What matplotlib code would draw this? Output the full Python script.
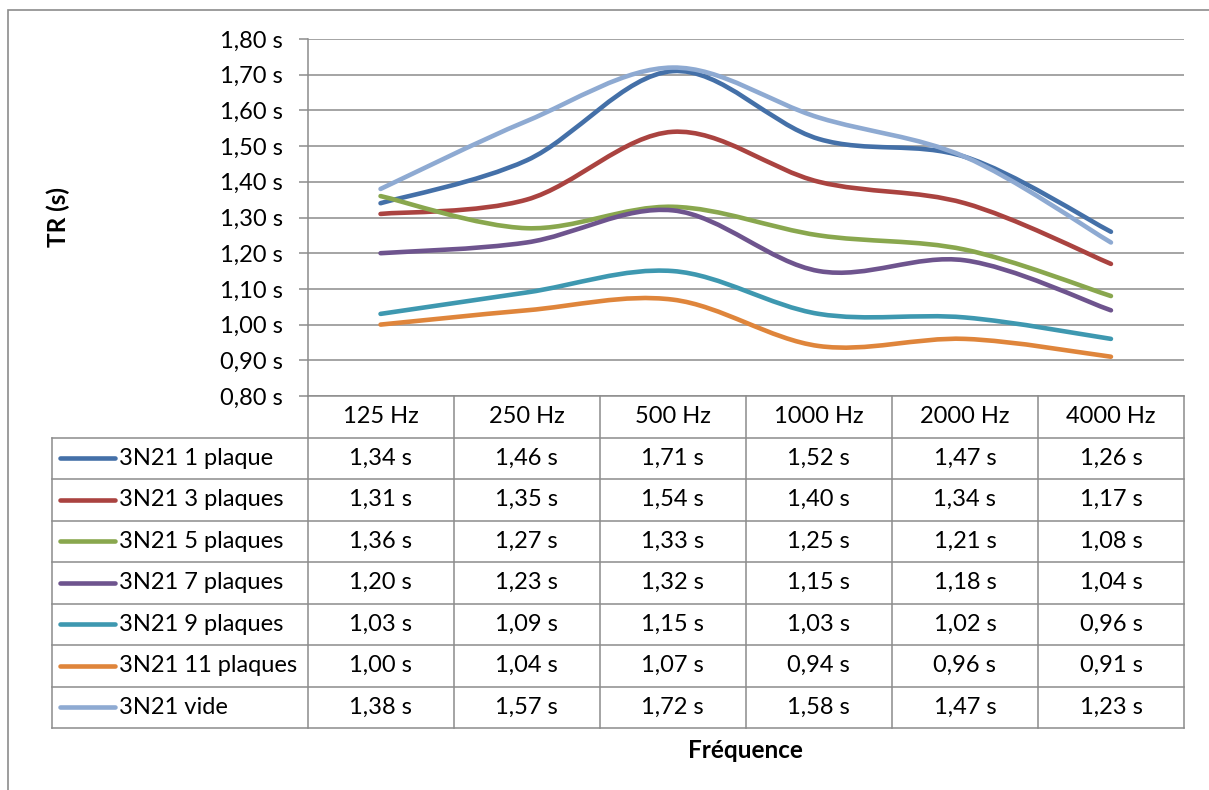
import matplotlib.pyplot as plt
import numpy as np
from matplotlib.path import Path
from matplotlib.patches import PathPatch, Rectangle
from matplotlib.lines import Line2D

plt.rcParams['font.family'] = ['Lato', 'DejaVu Sans']

categories = ["125 Hz", "250 Hz", "500 Hz", "1000 Hz", "2000 Hz", "4000 Hz"]
series_names = ["3N21 1 plaque", "3N21 3 plaques", "3N21 5 plaques", "3N21 7 plaques",
                "3N21 9 plaques", "3N21 11 plaques", "3N21 vide"]
tr_1 = [1.34, 1.46, 1.71, 1.52, 1.47, 1.26]
tr_3 = [1.31, 1.35, 1.54, 1.40, 1.34, 1.17]
tr_5 = [1.36, 1.27, 1.33, 1.25, 1.21, 1.08]
tr_7 = [1.20, 1.23, 1.32, 1.15, 1.18, 1.04]
tr_9 = [1.03, 1.09, 1.15, 1.03, 1.02, 0.96]
tr_11 = [1.00, 1.04, 1.07, 0.94, 0.96, 0.91]
tr_vide = [1.38, 1.57, 1.72, 1.58, 1.47, 1.23]
yticks = [0.8, 0.9, 1.0, 1.1, 1.2, 1.3, 1.4, 1.5, 1.6, 1.7, 1.8]

series = [tr_1, tr_3, tr_5, tr_7, tr_9, tr_11, tr_vide]
colors = ["#4470a8", "#aa4340", "#89a74e", "#6e548e", "#3e98b0", "#df853b", "#8eaad2"]
grid_col = "#8c8c8c"
fs = 17


def fmt(v):
    return f"{v:.2f} s".replace(".", ",")


def smooth_path(y):
    # excel-like smoothed line: cubic bezier through the points
    pts = np.column_stack([np.arange(len(y)), y])
    n = len(pts)
    verts = [pts[0]]
    codes = [Path.MOVETO]
    for i in range(n - 1):
        p_prev = pts[max(i - 1, 0)]
        p_next = pts[min(i + 2, n - 1)]
        c1 = pts[i] + (pts[i + 1] - p_prev) / 6
        c2 = pts[i + 1] - (p_next - pts[i]) / 6
        verts += [c1, c2, pts[i + 1]]
        codes += [Path.CURVE4] * 3
    return Path(verts, codes)


W, H = 1209, 790
fig = plt.figure(figsize=(W / 100, H / 100), dpi=100)

# outer chart border
fig.patches.append(Rectangle((8 / W, -0.1), 1.2, 1 - 10 / H + 0.1, transform=fig.transFigure,
                             fill=False, edgecolor="#8c8c8c", lw=1.2))

x0, x1 = 307.5, 1184
y0, y1 = 39, 396
ax = fig.add_axes([x0 / W, 1 - y1 / H, (x1 - x0) / W, (y1 - y0) / H])
ax.set_xlim(-0.5, len(categories) - 0.5)
ax.set_ylim(0.8, 1.8)
for s in ["top", "right", "bottom"]:
    ax.spines[s].set_visible(False)
ax.spines["left"].set_color(grid_col)
ax.spines["left"].set_linewidth(1.1)
ax.set_xticks([])
ax.set_yticks(yticks)
ax.set_yticklabels([fmt(v) for v in yticks], fontsize=fs)
ax.tick_params(axis="y", length=6.5, width=1.1, color=grid_col, pad=11)
ax.yaxis.grid(True, color=grid_col, lw=1.1)
ax.set_axisbelow(True)

for vals, col in zip(series, colors):
    ax.add_patch(PathPatch(smooth_path(vals), fill=False, edgecolor=col, lw=3.3,
                           capstyle="round", joinstyle="round"))

# data table under the plot
unit = (x1 - x0) / len(categories)
tab_left = 52
xl = -0.5 - (x0 - tab_left) / unit
tab = fig.add_axes([tab_left / W, 1 - 728 / H, (x1 - tab_left) / W, (728 - y1) / H])
tab.set_xlim(xl, len(categories) - 0.5)
tab.set_ylim(len(series) + 1, 0)
tab.axis("off")

lk = dict(color=grid_col, lw=1.1, clip_on=False)
nrow = len(series) + 1
tab.plot([-0.5, len(categories) - 0.5], [0, 0], **lk)
for r in range(1, nrow + 1):
    tab.plot([xl, len(categories) - 0.5], [r, r], **lk)
tab.plot([xl, xl], [1, nrow], **lk)
for k in range(len(categories) + 1):
    tab.plot([k - 0.5, k - 0.5], [0, nrow], **lk)

for j, c in enumerate(categories):
    tab.text(j, 0.5, c, ha="center", va="center", fontsize=fs)

for r, (name, vals, col) in enumerate(zip(series_names, series, colors), start=1):
    tab.add_line(Line2D([xl + 8 / unit, xl + 63 / unit], [r + 0.5, r + 0.5], color=col,
                        lw=3.3, solid_capstyle="round"))
    tab.text(xl + 67 / unit, r + 0.5, name, ha="left", va="center", fontsize=fs)
    for j, v in enumerate(vals):
        tab.text(j, r + 0.5, fmt(v), ha="center", va="center", fontsize=fs)

fig.text(58 / W, 1 - 217 / H, "TR (s)", rotation=90, ha="center", va="center",
         fontsize=17.5, fontweight="bold")
fig.text((x0 + x1) / 2 / W, 1 - 750 / H, "Fréquence", ha="center", va="center",
         fontsize=17.5, fontweight="bold")

fig.savefig("out.png", dpi=100)
